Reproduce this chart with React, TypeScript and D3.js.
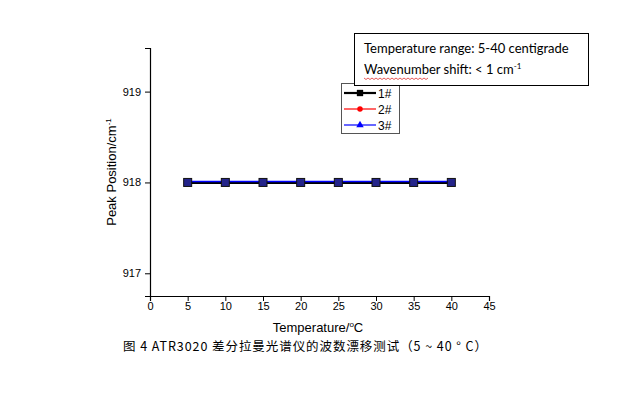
import * as d3 from "d3";
import React, { useEffect, useRef } from "react";

const temps = [5, 10, 15, 20, 25, 30, 35, 40];
const series1 = [918, 918, 918, 918, 918, 918, 918, 918];
const series2 = [918, 918, 918, 918, 918, 918, 918, 918];
const series3 = [918, 918, 918, 918, 918, 918, 918, 918];
const seriesNames = ["1#", "2#", "3#"];
const xTicks = [0, 5, 10, 15, 20, 25, 30, 35, 40, 45];
const yTicks = [917, 918, 919];

const App = () => {
	const ref = useRef<SVGSVGElement>(null);

	useEffect(() => {
		const svg = d3.select(ref.current);
		svg.selectAll("*").remove();

		const loff = 150;
		const roff = 489;
		const toff = 48;
		const boff = 296;
		const font = "'Liberation Sans', Arial, sans-serif";

		const xScale = d3.scaleLinear().domain([0, 45]).range([loff, roff]);
		const yScale = d3.scaleLinear().domain([916.75, 919.48]).range([boff, toff]);

		// axes
		const xAxis = svg.append("g").attr("transform", `translate(0, ${boff})`);
		xAxis.call(
			d3.axisBottom(xScale).tickValues(d3.range(0, 45.01, 2.5)).tickSize(3).tickFormat(() => "")
		);
		xAxis.call(
			d3.axisBottom(xScale).tickValues(xTicks).tickSize(5).tickFormat(d3.format("d"))
		);
		xAxis.selectAll("path.domain").attr("stroke", "#000").attr("stroke-width", 1.2);
		xAxis.selectAll("line").attr("stroke", "#000");
		xAxis
			.selectAll("text")
			.attr("font-family", font)
			.attr("font-size", 11)
			.attr("fill", "#000")
			.attr("dy", "0.5em");

		const yAxis = svg.append("g").attr("transform", `translate(${loff}, 0)`);
		yAxis.call(
			d3.axisLeft(yScale).tickValues([917, 917.5, 918, 918.5, 919]).tickSize(3).tickFormat(() => "")
		);
		yAxis.call(d3.axisLeft(yScale).tickValues(yTicks).tickSize(5).tickFormat(d3.format("d")));
		yAxis.selectAll("path.domain").attr("stroke", "#000").attr("stroke-width", 1.2);
		yAxis.selectAll("line").attr("stroke", "#000");
		yAxis
			.selectAll("text")
			.attr("font-family", font)
			.attr("font-size", 11)
			.attr("fill", "#000")
			.attr("x", -9);

		// axis labels
		const xl = svg
			.append("text")
			.attr("x", 318)
			.attr("y", 332)
			.attr("text-anchor", "middle")
			.attr("font-family", font)
			.attr("font-size", 13)
			.attr("fill", "#000");
		xl.append("tspan").text("Temperature/");
		xl.append("tspan").attr("font-size", 8).attr("dy", -5).text("o");
		xl.append("tspan").attr("dy", 5).text("C");

		const yl = svg
			.append("text")
			.attr("transform", `translate(116, 172) rotate(-90)`)
			.attr("text-anchor", "middle")
			.attr("font-family", font)
			.attr("font-size", 13)
			.attr("fill", "#000");
		yl.append("tspan").text("Peak Position/cm");
		yl.append("tspan").attr("font-size", 8).attr("dy", -5).text("-1");

		// lines (red hidden under black, blue on top)
		const line = d3
			.line<number>()
			.x((d, i) => xScale(temps[i]))
			.y((d) => yScale(d));
		svg.append("path").datum(series2).attr("fill", "none").attr("stroke", "#ff0000").attr("stroke-width", 1.5).attr("d", line);
		svg.append("path").datum(series1).attr("fill", "none").attr("stroke", "#000").attr("stroke-width", 3).attr("d", line);
		svg
			.append("path")
			.datum(series3)
			.attr("fill", "none")
			.attr("stroke", "#0000ff")
			.attr("stroke-width", 1.5)
			.attr("transform", "translate(0, -1)")
			.attr("d", line);

		// markers
		svg
			.append("g")
			.selectAll("rect")
			.data(series1)
			.join("rect")
			.attr("x", (d, i) => xScale(temps[i]) - 4)
			.attr("y", (d) => yScale(d) - 4)
			.attr("width", 8)
			.attr("height", 8)
			.attr("fill", "#24248a")
			.attr("stroke", "#111")
			.attr("stroke-width", 1);

		// legend
		const lg = svg.append("g");
		lg.append("rect")
			.attr("x", 341.5)
			.attr("y", 83.5)
			.attr("width", 58)
			.attr("height", 50)
			.attr("fill", "#fff")
			.attr("stroke", "#555");
		const colors = ["#000", "#ff0000", "#0000ff"];
		const syms = [d3.symbolSquare, d3.symbolCircle, d3.symbolTriangle];
		seriesNames.forEach((name, i) => {
			const y = 93 + i * 16;
			lg.append("line")
				.attr("x1", 344)
				.attr("x2", 376)
				.attr("y1", y)
				.attr("y2", y)
				.attr("stroke", colors[i])
				.attr("stroke-width", i === 0 ? 2.2 : 1.2);
			lg.append("path")
				.attr("transform", `translate(360, ${y})`)
				.attr("fill", colors[i])
				.attr("d", d3.symbol().type(syms[i]).size(i === 0 ? 40 : 24)());
			lg.append("text")
				.attr("x", 378)
				.attr("y", y + 4.5)
				.attr("font-family", font)
				.attr("font-size", 12)
				.attr("fill", "#000")
				.text(name);
		});

		// annotation box
		const box = svg.append("g");
		box.append("rect")
			.attr("x", 354.5)
			.attr("y", 33.5)
			.attr("width", 234)
			.attr("height", 52)
			.attr("fill", "#fff")
			.attr("stroke", "#000");
		box.append("text")
			.attr("x", 364)
			.attr("y", 53)
			.attr("font-family", "Lato, 'Open Sans', sans-serif")
			.attr("font-size", 13)
			.attr("fill", "#000")
			.text("Temperature range: 5-40 centigrade");
		const t2 = box
			.append("text")
			.attr("x", 364)
			.attr("y", 74)
			.attr("font-family", "Lato, 'Open Sans', sans-serif")
			.attr("font-size", 13)
			.attr("fill", "#000");
		t2.append("tspan").text("Wavenumber shift: < 1 cm");
		t2.append("tspan").attr("font-size", 8).attr("dy", -5).text("-1");
		// spell-check squiggle under "Wavenumber"
		const sq = d3.range(364, 430, 2).map((x, i) => [x, 78 + (i % 2 === 0 ? 0 : 1.5)] as [number, number]);
		box.append("path").attr("d", d3.line()(sq)).attr("fill", "none").attr("stroke", "#e03030").attr("stroke-width", 0.8);

		// caption
		svg.append("text")
			.attr("x", 123)
			.attr("y", 351)
			.attr("font-family", "'Noto Sans CJK SC', sans-serif")
			.attr("font-size", 12.5)
			.attr("fill", "#000")
			.attr("textLength", 364)
			.attr("lengthAdjust", "spacing")
			.text("图 4 ATR3020 差分拉曼光谱仪的波数漂移测试（5 ~ 40 ° C）");
	});

	return (
		<svg
			ref={ref}
			width={627}
			height={395}
			style={{ position: "absolute", left: 0, top: 0, background: "#fff" }}
		></svg>
	);
};

export default App;
